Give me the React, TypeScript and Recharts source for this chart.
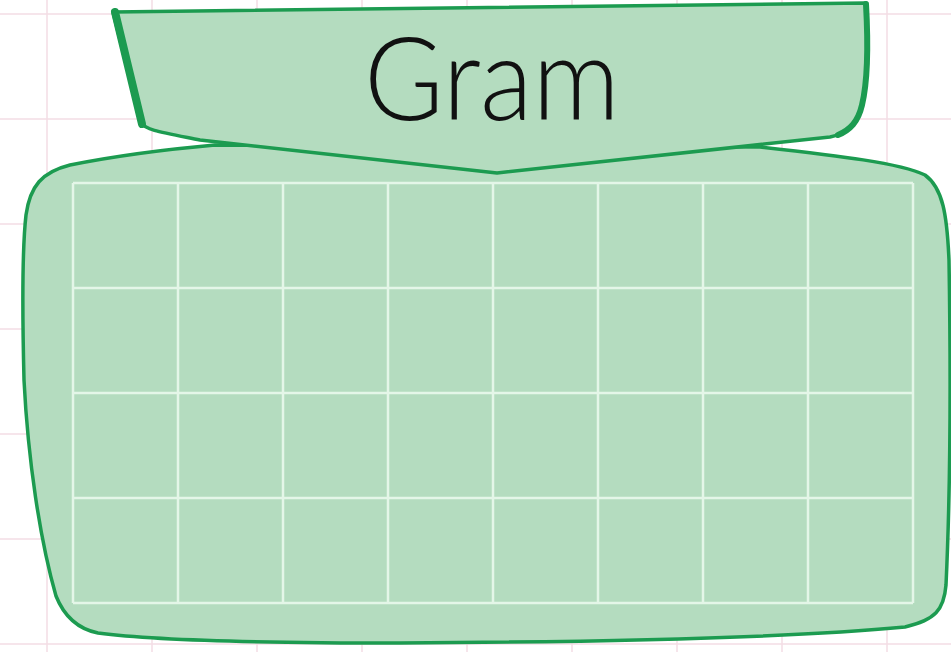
import React from "react";
import { ComposedChart, CartesianGrid, XAxis, YAxis, Line, Customized } from "recharts";

// Chart content
const title = "Gram";
const columns = ["1", "2", "3", "4", "5", "6", "7", "8"];
const rowCount = 4;
const xTicks = [0, 1, 2, 3, 4, 5, 6, 7, 8];
const yTicks = [0, 1, 2, 3, 4];
const values: (number | null)[] = [null, null, null, null, null, null, null, null];

const data = columns.map((c, i) => ({ x: i + 0.5, name: c, v: values[i] }));

const W = 951;
const H = 652;
const FILL = "#b4dcbf";
const EDGE = "#1c9b50";
const GRIDC = "#e4f6e8";
const PINK = "#f3dce4";

const bodyPath =
  "M 215 145 L 760 147 C 840 156, 900 163, 925 175 C 943 188, 947 215, 949 260 " +
  "C 951 380, 950 500, 946 585 C 944 610, 935 620, 905 627 C 800 637, 600 642, 400 643 " +
  "C 250 643, 150 640, 98 633 C 78 629, 64 616, 56 596 C 40 540, 28 460, 24 380 " +
  "C 22 300, 22 250, 26 215 C 30 186, 42 172, 70 165 C 120 155, 170 149, 215 145 Z";

const bannerPath =
  "M 113 12 L 866 3 C 868 40, 868 80, 862 105 C 858 125, 848 133, 830 137 " +
  "L 497 173 L 200 140 C 160 132, 146 130, 141 123 L 113 12 Z";

function Background() {
  const vLines: number[] = [];
  for (let x = 47; x < W; x += 105) vLines.push(x);
  const hLines: number[] = [];
  for (let y = 14; y < H; y += 105) hLines.push(y);
  return (
    <svg width={W} height={H} style={{ position: "absolute", left: 0, top: 0 }}>
      <rect x={0} y={0} width={W} height={H} fill="#ffffff" />
      {vLines.map((x) => (
        <line key={"v" + x} x1={x} y1={0} x2={x} y2={H} stroke={PINK} strokeWidth={1.5} />
      ))}
      {hLines.map((y) => (
        <line key={"h" + y} x1={0} y1={y} x2={W} y2={y} stroke={PINK} strokeWidth={1.5} />
      ))}
      <path d={bodyPath} fill={FILL} stroke={EDGE} strokeWidth={3.5} strokeLinejoin="round" />
      <path d={bannerPath} fill={FILL} stroke={EDGE} strokeWidth={3.5} strokeLinejoin="round" />
      <path d="M 115 12 L 142 124" stroke={EDGE} strokeWidth={8} strokeLinecap="round" fill="none" />
      <path d="M 866 4 C 868 40, 868 80, 862 105 C 858 122, 850 130, 838 135" stroke={EDGE} strokeWidth={6} strokeLinecap="round" fill="none" />
    </svg>
  );
}

function Title() {
  return (
    <text
      x={492}
      y={120}
      textAnchor="middle"
      fontFamily="Lato, 'DejaVu Sans', sans-serif"
      fontWeight={300}
      fontSize={116}
      fill="#111111"
      textLength={256}
      lengthAdjust="spacingAndGlyphs"
    >
      {title}
    </text>
  );
}

function hGen(p: any): number[] {
  const s = p && p.yAxis && p.yAxis.scale;
  if (typeof s === "function") return yTicks.map((t) => s(t));
  const o = p.offset;
  return yTicks.map((t) => o.top + o.height * (1 - t / rowCount));
}

function vGen(p: any): number[] {
  const s = p && p.xAxis && p.xAxis.scale;
  if (typeof s === "function") return xTicks.map((t) => s(t));
  const o = p.offset;
  return xTicks.map((t) => o.left + (o.width * t) / columns.length);
}

export default function App() {
  return (
    <div style={{ position: "absolute", left: 0, top: 0, width: W, height: H }}>
      <Background />
      <div style={{ position: "absolute", left: 0, top: 0 }}>
        <ComposedChart
          width={W}
          height={H}
          data={data}
          margin={{ top: 183, right: 38, bottom: 49, left: 73 }}
        >
          <CartesianGrid
            stroke={GRIDC}
            strokeWidth={2.5}
            horizontalCoordinatesGenerator={hGen}
            verticalCoordinatesGenerator={vGen}
          />
          <XAxis type="number" dataKey="x" domain={[0, columns.length]} ticks={xTicks} hide />
          <YAxis type="number" domain={[0, rowCount]} ticks={yTicks} hide />
          <Line dataKey="v" isAnimationActive={false} dot={false} stroke="none" />
          <Customized component={<Title />} />
        </ComposedChart>
      </div>
    </div>
  );
}
